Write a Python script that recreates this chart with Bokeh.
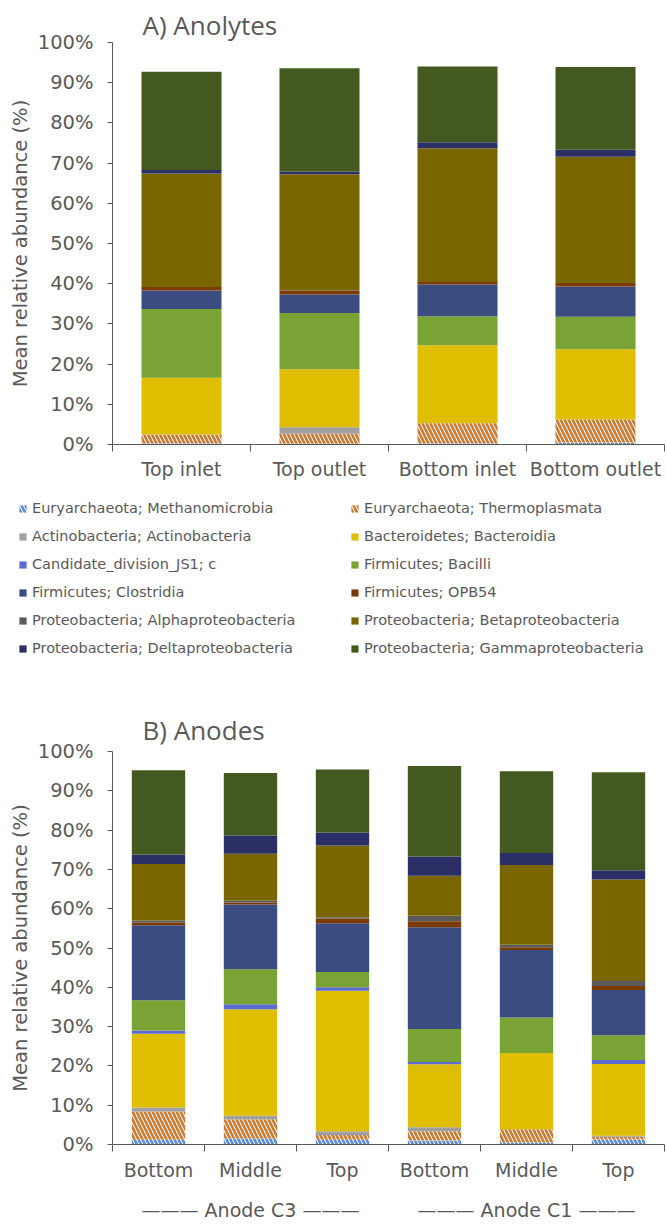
from bokeh.plotting import figure
from bokeh.models import (ColumnDataSource, FactorRange, Range1d, LinearAxis, CategoricalAxis,
                          FixedTicker, Legend, LegendItem, PrintfTickFormatter)
from bokeh.transform import stack
from bokeh.layouts import column
from bokeh.embed import file_html
from bokeh.resources import INLINE

# ---------------- data ----------------
taxa = ["Euryarchaeota; Methanomicrobia", "Euryarchaeota; Thermoplasmata",
        "Actinobacteria; Actinobacteria", "Bacteroidetes; Bacteroidia",
        "Candidate_division_JS1; c", "Firmicutes; Bacilli",
        "Firmicutes; Clostridia", "Firmicutes; OPB54",
        "Proteobacteria; Alphaproteobacteria", "Proteobacteria; Betaproteobacteria",
        "Proteobacteria; Deltaproteobacteria", "Proteobacteria; Gammaproteobacteria"]
keys = ["methano", "thermo", "actino", "bacteroidia", "js1", "bacilli",
        "clostridia", "opb54", "alpha", "beta", "delta", "gamma"]

anolyte_sites = ["Top inlet", "Top outlet", "Bottom inlet", "Bottom outlet"]
a_methano = [0.3, 0.2, 0.3, 0.5]
a_thermo = [2.2, 2.5, 5.0, 5.7]
a_actino = [0.0, 1.6, 0.0, 0.0]
a_bacteroidia = [14.1, 14.4, 19.4, 17.5]
a_js1 = [0.0, 0.0, 0.0, 0.0]
a_bacilli = [17.1, 14.0, 7.2, 8.1]
a_clostridia = [4.6, 4.6, 7.9, 7.5]
a_opb54 = [0.9, 1.0, 0.6, 0.9]
a_alpha = [0.0, 0.0, 0.0, 0.0]
a_beta = [28.2, 28.9, 33.3, 31.4]
a_delta = [0.9, 0.7, 1.5, 1.7]
a_gamma = [24.4, 25.7, 18.8, 20.6]

anode_groups = ["Anode C3", "Anode C3", "Anode C3", "Anode C1", "Anode C1", "Anode C1"]
anode_positions = ["Bottom", "Middle", "Top", "Bottom", "Middle", "Top"]
b_methano = [1.2, 1.6, 1.2, 1.0, 0.6, 1.3]
b_thermo = [7.2, 4.8, 1.2, 2.4, 3.3, 0.7]
b_actino = [1.0, 0.9, 1.0, 1.0, 0.0, 0.2]
b_bacteroidia = [18.8, 27.1, 35.7, 16.0, 19.4, 18.3]
b_js1 = [0.8, 1.3, 0.9, 0.6, 0.0, 1.0]
b_bacilli = [7.7, 8.9, 3.9, 8.4, 9.0, 6.3]
b_clostridia = [19.1, 16.5, 12.4, 25.9, 17.2, 11.5]
b_opb54 = [0.7, 0.5, 1.2, 1.5, 0.7, 1.0]
b_alpha = [0.5, 0.4, 0.3, 1.4, 0.6, 1.3]
b_beta = [14.4, 12.0, 18.3, 10.2, 20.3, 25.8]
b_delta = [2.4, 4.6, 3.3, 4.9, 3.1, 2.4]
b_gamma = [21.4, 15.9, 16.0, 23.0, 20.8, 24.9]

y_ticks = [0, 10, 20, 30, 40, 50, 60, 70, 80, 90, 100]

# ---------------- styles ----------------
fills = ["white", "white", "#A0A0A0", "#DFBD00", "#5B6BD2", "#79A335",
         "#3B4C80", "#7B3B04", "#5B5B5B", "#796600", "#2C2F66", "#44591F"]
hatches = ["\\", "\\", None, None, None, None, None, None, None, None, None, None]
hatch_colors = ["#5A8AD8", "#C77A30"] + [None] * 10

GREY = "#595959"
FONT = "DejaVu Sans"
W = 666
BAR_W = 0.58


def style_kw(i):
    kw = dict(fill_color=fills[i], line_color=None)
    if hatches[i] is not None:
        kw.update(hatch_pattern=hatches[i], hatch_color=hatch_colors[i],
                  hatch_weight=2.6, hatch_scale=8)
    return kw


def build(x_range, n_cats, data, height, top_border, bottom_border, title, title_standoff):
    src = ColumnDataSource(data)
    p = figure(x_range=x_range, y_range=Range1d(0, 100), width=W, height=height,
               output_backend="svg", toolbar_location=None, x_axis_location=None,
               min_border_left=112, min_border_right=2, min_border_top=top_border,
               min_border_bottom=bottom_border, title=title)
    p.outline_line_color = None
    p.grid.grid_line_color = None
    p.title.align = "left"
    p.title.offset = 30
    p.title.standoff = title_standoff
    p.title.text_font = "Open Sans"
    p.title.text_font_size = "26px"
    p.title.text_font_style = "normal"
    p.title.text_color = GREY

    for i, k in enumerate(keys):
        p.vbar(x="x", width=BAR_W, bottom=stack(*keys[:i]), top=stack(*keys[:i + 1]),
               source=src, **style_kw(i))

    ya = p.yaxis[0]
    ya.ticker = FixedTicker(ticks=y_ticks)
    ya.formatter = PrintfTickFormatter(format="%d%%")
    ya.axis_label = "Mean relative abundance (%)"
    ya.axis_label_text_font = FONT
    ya.axis_label_text_font_style = "normal"
    ya.axis_label_text_font_size = "19.5px"
    ya.axis_label_text_color = GREY
    ya.axis_label_standoff = 3
    ya.major_label_text_font = FONT
    ya.major_label_text_font_size = "19.5px"
    ya.major_label_text_color = GREY
    ya.major_label_standoff = 14
    ya.major_tick_out = 5
    ya.major_tick_in = 0
    ya.minor_tick_line_color = None
    ya.axis_line_color = GREY
    ya.major_tick_line_color = GREY

    # tick marks between categories (category boundaries in synthetic coordinates)
    edge_axis = LinearAxis(ticker=FixedTicker(ticks=list(range(n_cats + 1))),
                           axis_line_color=GREY, major_tick_line_color=GREY,
                           major_tick_out=7, major_tick_in=0, minor_tick_line_color=None,
                           major_label_text_font_size="0px", major_label_text_alpha=0,
                           major_label_standoff=0)
    p.add_layout(edge_axis, "below")
    return p


def label_axis(ticks, overrides, standoff):
    return LinearAxis(ticker=FixedTicker(ticks=ticks), major_label_overrides=overrides,
                      axis_line_color=None, major_tick_line_color=None,
                      minor_tick_line_color=None, major_label_standoff=standoff,
                      major_label_text_font=FONT, major_label_text_font_size="19px",
                      major_label_text_color=GREY)


# ---------------- chart A ----------------
data_a = dict(x=anolyte_sites, methano=a_methano, thermo=a_thermo, actino=a_actino,
              bacteroidia=a_bacteroidia, js1=a_js1, bacilli=a_bacilli, clostridia=a_clostridia,
              opb54=a_opb54, alpha=a_alpha, beta=a_beta, delta=a_delta, gamma=a_gamma)
pA = build(FactorRange(*anolyte_sites, range_padding=0, factor_padding=0),
           len(anolyte_sites), data_a, 482, 42, 37, "A) Anolytes", 0)
pA.add_layout(CategoricalAxis(axis_line_color=None, major_tick_line_color=None,
                              minor_tick_line_color=None, major_label_standoff=0,
                              major_label_text_font=FONT, major_label_text_font_size="19px",
                              major_label_text_color=GREY), "below")

# ---------------- legend (own panel, frame spans the full width) ----------------
pL = figure(width=W, height=210, x_range=Range1d(0, 1), y_range=Range1d(0, 1),
            output_backend="svg", toolbar_location=None, x_axis_location=None,
            y_axis_location=None, min_border=0, frame_align=False)
pL.outline_line_color = None
pL.grid.grid_line_color = None
# key swatches only (zero-height, placed outside the visible range)
legend_rends = [pL.vbar(x=[-5], top=[0], bottom=[0], width=0.5, **style_kw(i))
                for i in range(len(keys))]
legend_kw = dict(label_text_font=FONT, label_text_font_size="14.5px", label_text_color=GREY,
                 glyph_width=9, glyph_height=9, label_standoff=5, padding=0, spacing=8,
                 label_height=20, border_line_color=None, background_fill_alpha=0,
                 orientation="vertical", margin=0)
left_idx = [0, 2, 4, 6, 8, 10]
right_idx = [1, 3, 5, 7, 9, 11]
pL.add_layout(Legend(items=[LegendItem(label=taxa[i], renderers=[legend_rends[i]]) for i in left_idx],
                     location=(18, 34), **legend_kw))
pL.add_layout(Legend(items=[LegendItem(label=taxa[i], renderers=[legend_rends[i]]) for i in right_idx],
                     location=(350, 34), **legend_kw))

# ---------------- chart B ----------------
factors_b = list(zip(anode_groups, anode_positions))
data_b = dict(x=factors_b, methano=b_methano, thermo=b_thermo, actino=b_actino,
              bacteroidia=b_bacteroidia, js1=b_js1, bacilli=b_bacilli, clostridia=b_clostridia,
              opb54=b_opb54, alpha=b_alpha, beta=b_beta, delta=b_delta, gamma=b_gamma)
pB = build(FactorRange(*factors_b, range_padding=0, factor_padding=0,
                       group_padding=0, subgroup_padding=0),
           len(factors_b), data_b, 531, 59, 78, "B) Anodes", 8)

centers = [i + 0.5 for i in range(len(anode_positions))]
pB.add_layout(label_axis(centers, {c: n for c, n in zip(centers, anode_positions)}, 1), "below")
group_names = list(dict.fromkeys(anode_groups))
group_centers = [sum(c for c, g in zip(centers, anode_groups) if g == name) / anode_groups.count(name)
                 for name in group_names]
pB.add_layout(label_axis(group_centers,
                         {c: "\u2014\u2014\u2014 " + n + " \u2014\u2014\u2014"
                          for c, n in zip(group_centers, group_names)}, 9), "below")

layout = column(pA, pL, pB)
open("out.html", "w").write(file_html(layout, INLINE))
